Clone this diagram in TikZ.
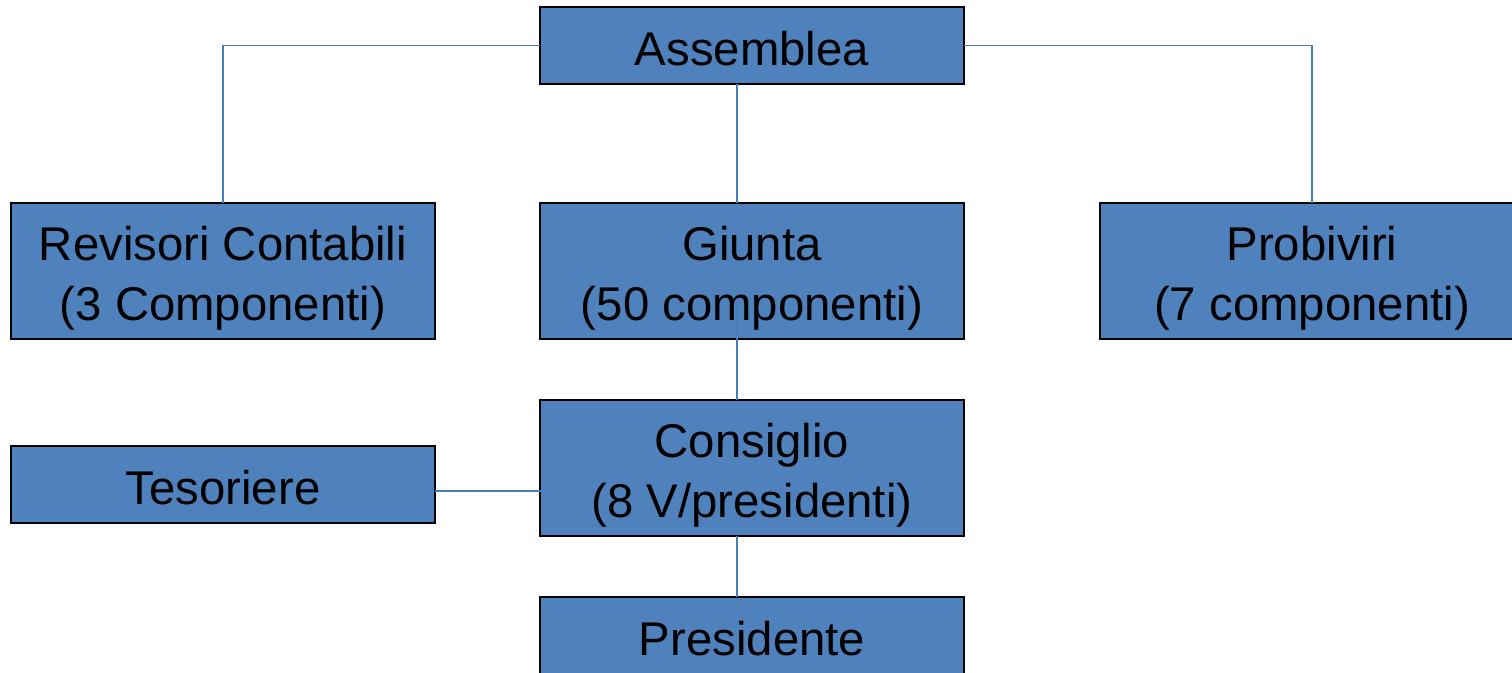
\documentclass[tikz,border=0pt]{standalone}
\usepackage{fontspec}
\setmainfont{Liberation Sans}
\usetikzlibrary{calc}
\definecolor{boxblue}{HTML}{4F81BD}
\definecolor{lineblue}{HTML}{4A7EBB}
\newcommand\tallstrut{\rule{0pt}{36pt}}
\begin{document}
\begin{tikzpicture}[x=0.75pt,y=-0.75pt,
  basebox/.style={draw=black,line width=1.5pt,fill=boxblue,inner sep=0pt,outer sep=0pt,
    minimum width=318pt,align=center,
    font=\fontsize{35.5pt}{43.5pt}\selectfont},
  orgbox/.style={basebox,minimum height=102pt},
  shortbox/.style={basebox,minimum height=57.75pt,execute at begin node={\rule{0pt}{30.4pt}}},
  conn/.style={draw=lineblue,line width=1pt}]
\useasboundingbox (0,0) rectangle (1512,672);
\node[shortbox] (assem) at (752,45.5) {Assemblea};
\node[orgbox] (rev) at (223,271) {\tallstrut Revisori Contabili\\[1.5pt](3 Componenti)};
\node[orgbox] (giunta) at (752,271) {\tallstrut Giunta\\[1.5pt](50 componenti)};
\node[orgbox] (prob) at (1312,271) {\tallstrut Probiviri\\[1.5pt](7 componenti)};
\node[orgbox] (cons) at (752,468) {\tallstrut Consiglio\\[1.5pt](8 V/presidenti)};
\node[shortbox] (tes) at (223,484) {Tesoriere};
\node[shortbox] (pres) at (752,635.5) {Presidente};
\draw[conn] (assem.west) -| (rev.north);
\draw[conn] (assem.east) -| (prob.north);
\draw[conn] ($(assem.south)+(-15,0)$) -- ($(giunta.north)+(-15,0)$);
\draw[conn] ($(giunta.south)+(-15,-39)$) -- ($(cons.north)+(-15,0)$);
\draw[conn] ($(cons.south)+(-15,0)$) -- ($(pres.north)+(-15,0)$);
\draw[conn] ($(tes.east)+(0,7)$) -- ($(cons.west)+(30,23)$);
\end{tikzpicture}
\end{document}
